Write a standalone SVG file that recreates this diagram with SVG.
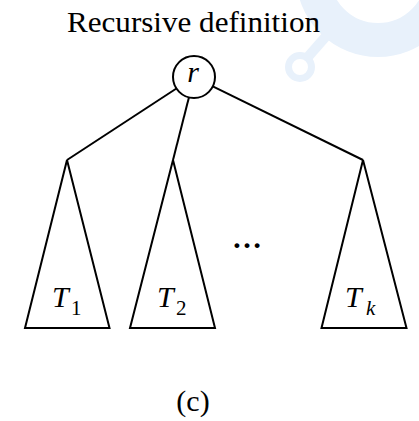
<svg xmlns="http://www.w3.org/2000/svg" width="419" height="421" viewBox="0 0 419 421">
  <rect width="419" height="421" fill="#fff"/>
  <g id="watermark" fill="none" stroke="#e8f1fb">
    <circle cx="378" cy="-25" r="65" stroke-width="34"/>
    <circle cx="300" cy="67" r="11.5" stroke-width="7"/>
    <line x1="307" y1="58" x2="335" y2="26" stroke-width="10"/>
  </g>
  <text x="67" y="32" font-size="30" font-family="Liberation Serif" style="font-family:'Liberation Serif' !important" textLength="253" lengthAdjust="spacingAndGlyphs">Recursive definition</text>
  <g id="connectors" stroke="#000" stroke-width="2" fill="none">
    <line x1="176.4" y1="88.5" x2="67" y2="160"/>
    <line x1="188.9" y1="97.4" x2="173" y2="160"/>
    <line x1="212.8" y1="86.3" x2="363" y2="160"/>
  </g>
  <g id="root" font-family="Liberation Serif">
    <circle cx="194" cy="77" r="21" fill="#fff" stroke="#000" stroke-width="2"/>
    <text x="193" y="82" font-size="30" font-style="italic" style="font-family:'Liberation Serif' !important" text-anchor="middle">r</text>
  </g>
  <g id="T1" font-family="Liberation Serif">
    <polygon points="67,160 25,328 109.5,328" fill="none" stroke="#000" stroke-width="2"/>
    <text x="52" y="307" font-size="30" font-style="italic" style="font-family:'Liberation Serif' !important">T</text>
    <text x="71" y="315" font-size="21" style="font-family:'Liberation Serif' !important">1</text>
  </g>
  <g id="T2" font-family="Liberation Serif">
    <polygon points="173,160 130,328 215,328" fill="none" stroke="#000" stroke-width="2"/>
    <text x="157" y="307" font-size="30" font-style="italic" style="font-family:'Liberation Serif' !important">T</text>
    <text x="176" y="315" font-size="21" style="font-family:'Liberation Serif' !important">2</text>
  </g>
  <g id="dots" font-family="Liberation Serif">
    <text x="247" y="248" font-size="30" font-weight="bold" style="font-family:'Liberation Serif' !important" text-anchor="middle">…</text>
  </g>
  <g id="Tk" font-family="Liberation Serif">
    <polygon points="363,160 321.5,328 406.5,328" fill="none" stroke="#000" stroke-width="2"/>
    <text x="345" y="307" font-size="30" font-style="italic" style="font-family:'Liberation Serif' !important">T</text>
    <text x="366" y="315" font-size="21" font-style="italic" style="font-family:'Liberation Serif' !important">k</text>
  </g>
  <text x="193" y="411" font-size="30" font-family="Liberation Serif" style="font-family:'Liberation Serif' !important" text-anchor="middle">(c)</text>
</svg>
